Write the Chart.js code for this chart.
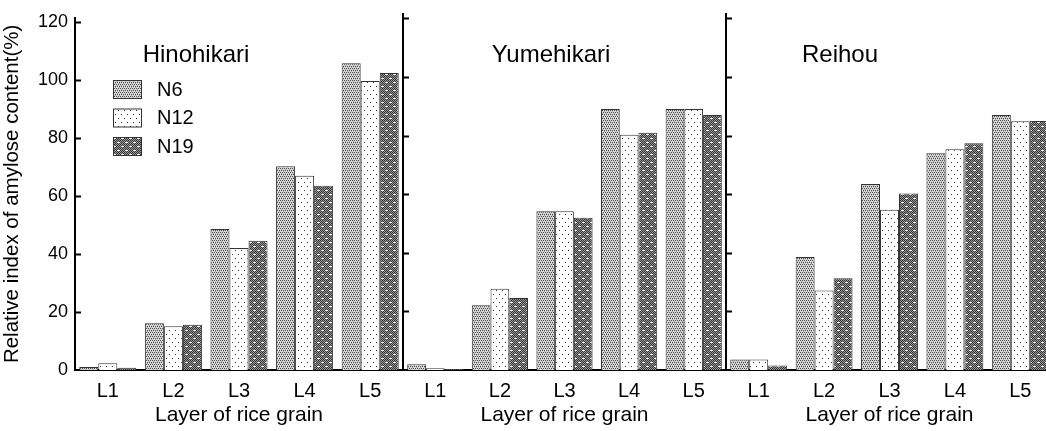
<!DOCTYPE html>
<html>
<head>
<meta charset="utf-8">
<script src="https://cdn.jsdelivr.net/npm/chart.js@4.4.1/dist/chart.umd.min.js"></script>
<style>
  html, body { margin: 0; padding: 0; background: #fff; overflow: hidden; width: 1046px; height: 431px; }
  canvas { position: absolute; top: 0; }
</style>
</head>
<body>
<canvas id="c1" width="403" height="431" style="left:0px"></canvas>
<canvas id="c2" width="333" height="431" style="left:393px"></canvas>
<canvas id="c3" width="337" height="431" style="left:716px"></canvas>
<script>
const layers = ['L1', 'L2', 'L3', 'L4', 'L5'];
const seriesNames = ['N6', 'N12', 'N19'];
const varieties = ['Hinohikari', 'Yumehikari', 'Reihou'];
const yTicks = [0, 20, 40, 60, 80, 100, 120];

// Hinohikari
const hinoN6  = [1.0, 16.1, 48.6, 70.3, 105.8];
const hinoN12 = [2.3, 15.1, 42.1, 67.0, 99.7];
const hinoN19 = [0.8, 15.6, 44.6, 63.6, 102.5];
// Yumehikari
const yumeN6  = [2.0, 22.1, 54.2, 89.1, 89.1];
const yumeN12 = [0.6, 27.7, 54.2, 80.3, 89.1];
const yumeN19 = [0.3, 24.6, 52.0, 81.0, 87.0];
// Reihou
const reiN6  = [3.6, 38.6, 63.5, 74.0, 87.0];
const reiN12 = [3.6, 27.1, 54.7, 75.3, 84.9];
const reiN19 = [1.5, 31.3, 60.2, 77.4, 85.0];

const FONT = "'Liberation Sans', Arial, sans-serif";

// stipple fills like the printed figure
function makePattern(kind) {
    const c = document.createElement('canvas');
    const ctx = c.getContext('2d');
    const px = (x, y, col) => { ctx.fillStyle = col; ctx.fillRect(x, y, 1, 1); };
    if (kind === 0) {
        c.width = 4; c.height = 4;
        ctx.fillStyle = '#d8d8d8'; ctx.fillRect(0, 0, 4, 4);
        [[0, 0], [2, 0], [1, 2], [3, 2]].forEach(p => px(p[0], p[1], '#4a4a4a'));
        [[1, 1], [3, 3]].forEach(p => px(p[0], p[1], '#a8a8a8'));
    } else if (kind === 1) {
        c.width = 6; c.height = 8;
        ctx.fillStyle = '#ffffff'; ctx.fillRect(0, 0, 6, 8);
        px(1, 2, '#333'); px(4, 6, '#333');
    } else {
        c.width = 8; c.height = 8;
        for (let y = 0; y < 8; y++) for (let x = 0; x < 8; x++) px(x, y, (x + y) % 2 ? '#9a9a9a' : '#333333');
        ctx.fillStyle = '#ffffff';
        ctx.fillRect(1, 2, 3, 1);
        ctx.fillRect(5, 6, 3, 1);
    }
    return document.getElementById('c1').getContext('2d').createPattern(c, 'repeat');
}
const fills = [makePattern(0), makePattern(1), makePattern(2)];

// inward tick marks, panel names and (first panel) legend
const panelDecor = {
    id: 'panelDecor',
    afterDraw(chart, args, opts) {
        const ctx = chart.ctx;
        const area = chart.chartArea;
        const y = chart.scales.y;
        ctx.save();
        ctx.strokeStyle = '#000';
        ctx.lineWidth = 2;
        yTicks.forEach(v => {
            if (v === 0) return;
            const py = Math.round(y.getPixelForValue(v)) + 0.5;
            ctx.beginPath();
            ctx.moveTo(area.left, py);
            ctx.lineTo(area.left + 6, py);
            ctx.stroke();
        });
        ctx.fillStyle = '#000';
        ctx.font = '24px ' + FONT;
        ctx.textAlign = 'center';
        ctx.textBaseline = 'middle';
        ctx.fillText(opts.title, area.left + opts.titleOffset, 55);
        if (opts.legend) {
            ctx.font = '20px ' + FONT;
            ctx.textAlign = 'left';
            chart.data.datasets.forEach((ds, i) => {
                const by = 80 + i * 28.5;
                ctx.fillStyle = ds.backgroundColor;
                ctx.fillRect(113, by, 29, 19);
                ctx.strokeStyle = '#333';
                ctx.lineWidth = 1;
                ctx.strokeRect(113.5, by + 0.5, 28, 18);
                ctx.fillStyle = '#000';
                ctx.fillText(ds.label, 157, by + 10);
            });
        }
        ctx.restore();
    }
};

function buildChart(id, idx, n6, n12, n19, yAxisWidth, titleOffset) {
    const first = idx === 0;
    return new Chart(document.getElementById(id), {
        type: 'bar',
        data: {
            labels: layers,
            datasets: [n6, n12, n19].map((vals, i) => ({
                label: seriesNames[i],
                data: vals,
                backgroundColor: fills[i],
                borderColor: '#333',
                borderWidth: 1,
                borderSkipped: 'bottom',
                categoryPercentage: 0.87,
                barPercentage: 1.0
            }))
        },
        options: {
            responsive: false,
            animation: false,
            layout: { padding: { top: 14, right: 0, bottom: 0, left: 0 } },
            plugins: {
                legend: { display: false },
                tooltip: { enabled: false },
                panelDecor: { title: varieties[idx], titleOffset: titleOffset, legend: first }
            },
            scales: {
                x: {
                    grid: { display: false, drawTicks: false },
                    border: { display: true, color: '#000', width: 2 },
                    ticks: { color: '#000', font: { family: FONT, size: 20 }, padding: 9 },
                    title: { display: true, text: 'Layer of rice grain', color: '#000',
                             font: { family: FONT, size: 21 }, padding: { top: 0, bottom: 3 } },
                    afterFit: (s) => { s.height = 61; }
                },
                y: {
                    min: 0,
                    max: 121.5,
                    grid: { display: false, drawTicks: false },
                    border: { display: true, color: '#000', width: 2 },
                    ticks: { display: first, stepSize: 20, includeBounds: false, color: '#000',
                             font: { family: FONT, size: 18 }, padding: 7 },
                    title: { display: first, text: 'Relative index of amylose content(%)', color: '#000',
                             font: { family: FONT, size: 20.5 }, padding: { top: 0, bottom: 0 } },
                    afterFit: (s) => { s.width = yAxisWidth; }
                }
            }
        },
        plugins: [panelDecor]
    });
}

buildChart('c1', 0, hinoN6, hinoN12, hinoN19, 75, 121);
buildChart('c2', 1, yumeN6, yumeN12, yumeN19, 10, 148);
buildChart('c3', 2, reiN6, reiN12, reiN19, 10, 114);
</script>
</body>
</html>
